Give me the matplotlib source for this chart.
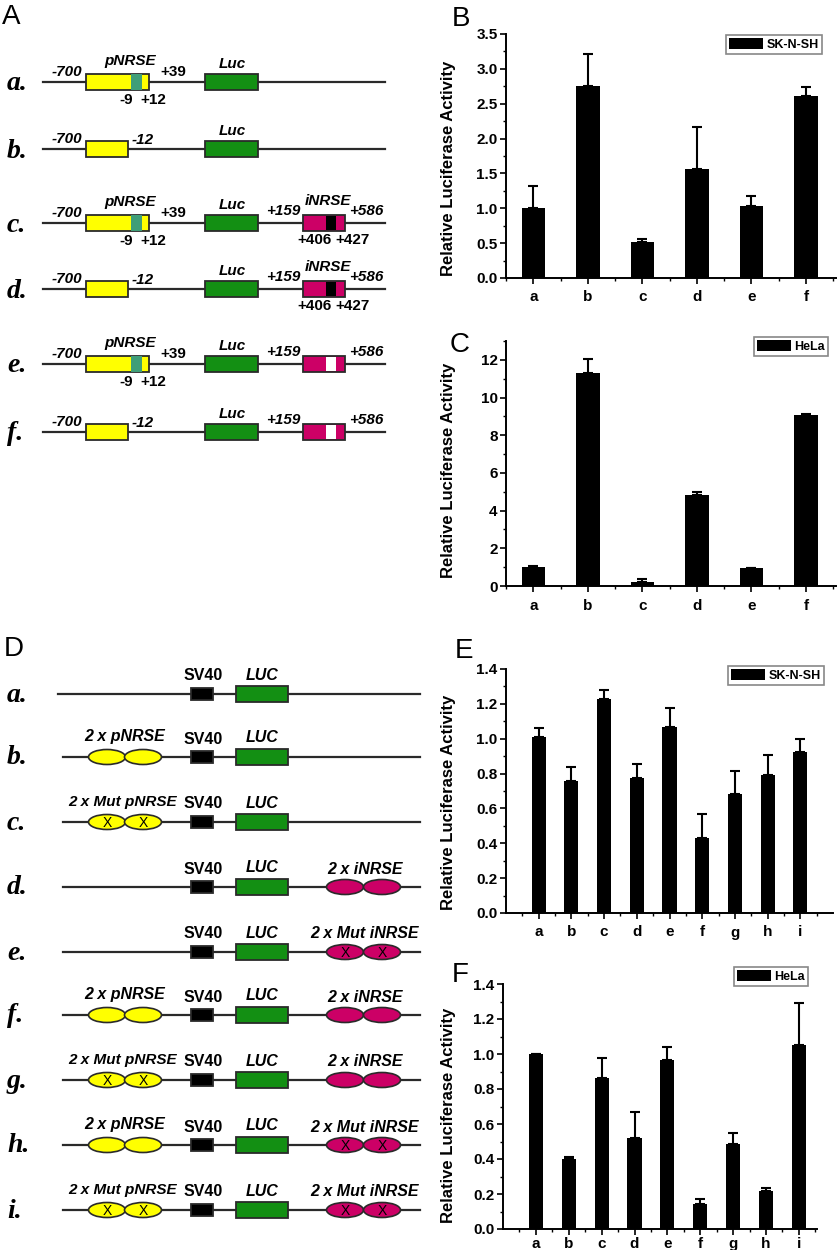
import matplotlib.pyplot as plt
from matplotlib.patches import Rectangle, Ellipse
from matplotlib.ticker import FixedLocator, MultipleLocator, AutoMinorLocator, FormatStrFormatter
import numpy as np

plt.rcParams['font.family'] = ['Liberation Sans', 'DejaVu Sans']

# ---- bar chart data ----
labels_bc = ['a', 'b', 'c', 'd', 'e', 'f']
sknsh_bc = [1.00, 2.76, 0.51, 1.56, 1.03, 2.61]
sknsh_bc_err = [0.32, 0.45, 0.05, 0.60, 0.14, 0.13]
hela_bc = [1.00, 11.30, 0.22, 4.85, 0.93, 9.05]
hela_bc_err = [0.08, 0.73, 0.16, 0.12, 0.05, 0.06]

labels_ef = ['a', 'b', 'c', 'd', 'e', 'f', 'g', 'h', 'i']
sknsh_ef = [1.01, 0.755, 1.23, 0.775, 1.065, 0.43, 0.685, 0.79, 0.925]
sknsh_ef_err = [0.05, 0.085, 0.05, 0.08, 0.11, 0.14, 0.13, 0.115, 0.075]
hela_ef = [1.00, 0.40, 0.865, 0.52, 0.965, 0.145, 0.485, 0.22, 1.05]
hela_ef_err = [0.0, 0.01, 0.11, 0.15, 0.075, 0.025, 0.065, 0.015, 0.24]

# ---- construct maps ----
a_names = ['a.', 'b.', 'c.', 'd.', 'e.', 'f.']
a_full_promoter = [True, False, True, False, True, False]
a_intron = [None, None, 'wt', 'wt', 'mut', 'mut']

d_names = ['a.', 'b.', 'c.', 'd.', 'e.', 'f.', 'g.', 'h.', 'i.']
d_pnrse = [None, 'wt', 'mut', None, None, 'wt', 'mut', 'wt', 'mut']
d_inrse = [None, None, None, 'wt', 'mut', 'wt', 'wt', 'mut', 'mut']

# layout (pixels, from top-left)
a_row_y = [82, 149, 223, 289, 364, 432]
d_row_y = [694, 757, 822, 887, 952, 1015, 1080, 1145, 1210]

YELLOW = '#FFFF00'
GREEN = '#138F13'
TEAL = '#3F9E78'
MAGENTA = '#CC0066'
EDGE = '#2a2a2a'

W, H = 840, 1250
fig = plt.figure(figsize=(W / 100, H / 100), dpi=100)

# overlay axes in pixel units for the schematic diagrams
ax0 = fig.add_axes([0, 0, 1, 1])
ax0.set_xlim(0, W)
ax0.set_ylim(H, 0)
ax0.axis('off')

lab = dict(fontsize=11, fontweight='bold', fontstyle='italic', ha='center', va='center')
num = dict(fontsize=11, fontweight='bold', ha='center', va='center')
rowlab = dict(fontsize=20, fontweight='bold', fontstyle='italic', family='Liberation Serif',
              ha='left', va='center')


def box(ax, x0, x1, y, h, color, lw=1.3):
    ax.add_patch(Rectangle((x0, y - h / 2), x1 - x0, h, facecolor=color,
                           edgecolor=EDGE, lw=lw, zorder=3))


def draw_a_row(ax, y, name, full, intron):
    ax.text(7, y + 2, name, **rowlab)
    ax.plot([43, 385], [y, y], color=EDGE, lw=1.6, zorder=1)
    box(ax, 86, 149 if full else 128, y, 16, YELLOW)
    ax.text(67, y - 10, '-700', **lab)
    if full:
        ax.add_patch(Rectangle((131, y - 8), 11, 16, facecolor=TEAL, edgecolor='none', zorder=4))
        ax.text(130, y - 21, 'pNRSE', **lab)
        ax.text(173, y - 10, '+39', **num)
        ax.text(126, y + 18, '-9', **num)
        ax.text(153, y + 18, '+12', **num)
    else:
        ax.text(143, y - 9, '-12', **lab)
    box(ax, 205, 258, y, 16, GREEN)
    ax.text(232, y - 18, 'Luc', **lab)
    if intron:
        box(ax, 303, 345, y, 16, MAGENTA)
        stripe = 'black' if intron == 'wt' else 'white'
        ax.add_patch(Rectangle((326, y - 7), 10, 14, facecolor=stripe, edgecolor='none', zorder=4))
        ax.text(283, y - 12, '+159', **lab)
        ax.text(366, y - 12, '+586', **lab)
        if intron == 'wt':
            ax.text(328, y - 22, 'iNRSE', **lab)
            ax.text(314, y + 17, '+406', **num)
            ax.text(353, y + 17, '+427', **num)


def pair(ax, xs, y, color, mut):
    for xc in xs:
        ax.add_patch(Ellipse((xc, y), 37, 15, facecolor=color, edgecolor=EDGE, lw=1.2, zorder=3))
        if mut:
            ax.text(xc, y + 1, 'X', fontsize=10, ha='center', va='center', zorder=5)


def draw_d_row(ax, y, name, pn, inr, first):
    ax.text(7, y + 1, name, **rowlab)
    ax.plot([58 if first else 63, 420], [y, y], color=EDGE, lw=1.6, zorder=1)
    dl = dict(lab, fontsize=11.5)
    if pn:
        pair(ax, [107, 143], y, YELLOW, pn == 'mut')
        if pn == 'wt':
            ax.text(125, y - 20, '2 x pNRSE', **dl)
        else:
            ax.text(123, y - 20, '2 x Mut pNRSE', **dict(dl, fontsize=11))
    box(ax, 191, 213, y, 12, 'black')
    ax.text(203, y - 18, 'SV40', fontsize=11.5, fontweight='bold', ha='center', va='center')
    box(ax, 236, 288, y, 16, GREEN)
    ax.text(262, y - 19, 'LUC', **dl)
    if inr:
        pair(ax, [345, 382], y, MAGENTA, inr == 'mut')
        ax.text(365, y - 18, '2 x iNRSE' if inr == 'wt' else '2 x Mut iNRSE', **dl)


for y, n, f, i in zip(a_row_y, a_names, a_full_promoter, a_intron):
    draw_a_row(ax0, y, n, f, i)
for k, (y, n, p, i) in enumerate(zip(d_row_y, d_names, d_pnrse, d_inrse)):
    draw_d_row(ax0, y, n, p, i, k == 0)


def bar_panel(px, labels, vals, errs, legend_label, ylim, ystep, xlim, yfmt, leg_corner, ylab_pos,
              xpad=5):
    left, top, right, bottom = px
    ax = fig.add_axes([left / W, 1 - bottom / H, (right - left) / W, (bottom - top) / H])
    x = np.arange(1, len(labels) + 1)
    ax.bar(x, vals, width=0.43, color='black', label=legend_label, zorder=2)
    ax.errorbar(x, vals, yerr=[np.zeros(len(x)), errs], fmt='none', ecolor='black',
                elinewidth=1.5, capsize=3.5, capthick=1.5, zorder=1)
    ax.set_xlim(*xlim)
    ax.set_ylim(*ylim)
    for s in ['top', 'right']:
        ax.spines[s].set_visible(False)
    for s in ['left', 'bottom']:
        ax.spines[s].set_linewidth(1.4)
    ax.yaxis.set_major_locator(MultipleLocator(ystep))
    ax.yaxis.set_minor_locator(AutoMinorLocator(2))
    ax.yaxis.set_major_formatter(FormatStrFormatter(yfmt))
    ax.set_xticks(x)
    ax.set_xticklabels(labels)
    ax.xaxis.set_minor_locator(FixedLocator(np.append(x - 0.5, x[-1] + 0.5)))
    ax.tick_params(which='major', direction='out', length=4, width=1.2, labelsize=11, pad=2)
    ax.tick_params(which='minor', direction='out', length=2.5, width=1.0)
    ax.tick_params(axis='x', which='major', pad=xpad)
    for t in ax.get_xticklabels() + ax.get_yticklabels():
        t.set_fontweight('bold')
    ax.set_ylabel('Relative Luciferase Activity', fontsize=12, fontweight='bold')
    ax.yaxis.set_label_coords(ylab_pos[0], ylab_pos[1], transform=ax0.transData)
    leg = ax.legend(loc='upper right', bbox_to_anchor=(leg_corner[0] / W, 1 - leg_corner[1] / H),
                    bbox_transform=fig.transFigure, prop=dict(weight='bold', size=9),
                    fancybox=False, edgecolor='#888888', framealpha=1, handlelength=2.7,
                    handleheight=1.0, borderpad=0.25, handletextpad=0.3, borderaxespad=0)
    leg.get_frame().set_linewidth(1.2)
    return ax


bar_panel((506, 34, 836, 278), labels_bc, sknsh_bc, sknsh_bc_err, 'SK-N-SH',
          (0, 3.5), 0.5, (0.5, 6.55), '%.1f', (822, 35), (456, 168))
bar_panel((506, 341, 836, 586), labels_bc, hela_bc, hela_bc_err, 'HeLa',
          (0, 13), 2, (0.5, 6.55), '%d', (828, 337), (456, 470))
bar_panel((506, 669, 833, 913), labels_ef, sknsh_ef, sknsh_ef_err, 'SK-N-SH',
          (0, 1.4), 0.2, (0, 10), '%.1f', (824, 666), (456, 802))
bar_panel((503, 984, 817, 1229), labels_ef, hela_ef, hela_ef_err, 'HeLa',
          (0, 1.4), 0.2, (0, 9.55), '%.1f', (808, 967), (456, 1115), xpad=1.5)

# panel letters
for letter, (lx, ly) in zip('ABCDEF', [(2, 17), (452, 19), (450, 345), (4, 649), (455, 651), (452, 975)]):
    fig.text(lx / W, 1 - ly / H, letter, fontsize=20, ha='left', va='center')

fig.savefig('out.png', dpi=100)
